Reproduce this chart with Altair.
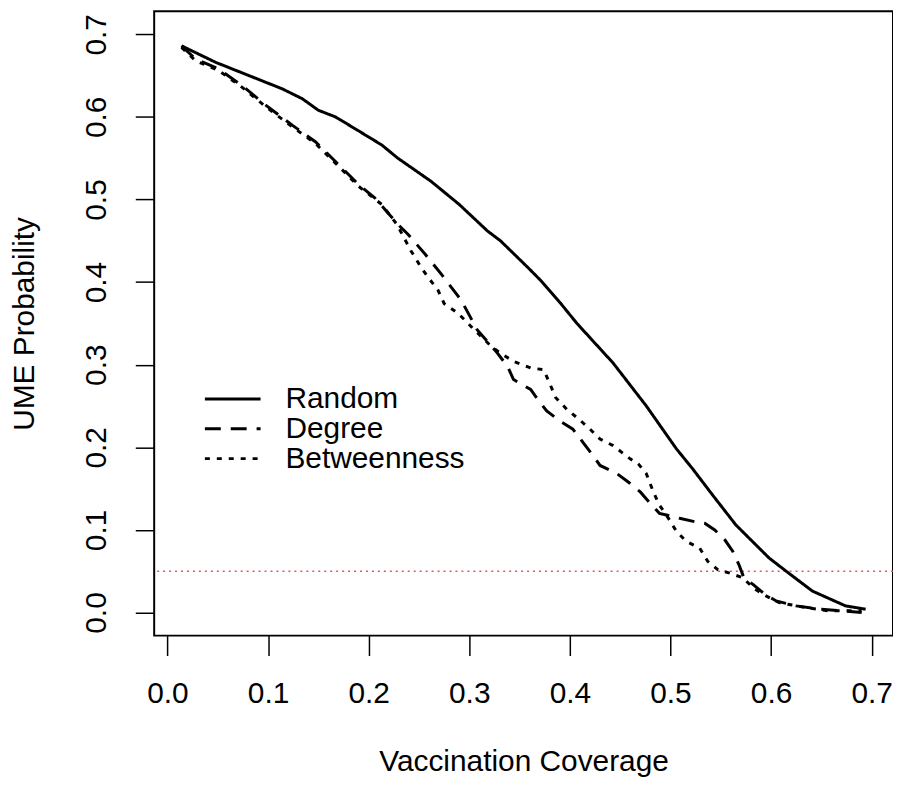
import altair as alt
import pandas as pd

# ---- data ----
random_x = [0.014, 0.048, 0.081, 0.114, 0.134, 0.150, 0.167, 0.186, 0.213, 0.229, 0.262, 0.290,
            0.318, 0.331, 0.358, 0.371, 0.391, 0.407, 0.443, 0.476, 0.506, 0.522, 0.542, 0.565,
            0.598, 0.615, 0.641, 0.674, 0.694]
random_y = [0.686, 0.666, 0.650, 0.634, 0.622, 0.608, 0.600, 0.586, 0.566, 0.550, 0.522, 0.494,
            0.462, 0.450, 0.418, 0.402, 0.374, 0.350, 0.302, 0.250, 0.198, 0.174, 0.142, 0.106,
            0.066, 0.050, 0.026, 0.008, 0.004]

degree_x = [0.014, 0.028, 0.051, 0.074, 0.098, 0.124, 0.147, 0.167, 0.190, 0.206, 0.219, 0.229,
            0.239, 0.256, 0.272, 0.292, 0.308, 0.328, 0.338, 0.344, 0.361, 0.368, 0.377, 0.390,
            0.403, 0.413, 0.423, 0.430, 0.447, 0.458, 0.470, 0.480, 0.489, 0.496, 0.509, 0.524,
            0.534, 0.544, 0.554, 0.562, 0.568, 0.573, 0.582, 0.592, 0.605, 0.625, 0.648, 0.690]
degree_y = [0.686, 0.670, 0.658, 0.638, 0.614, 0.590, 0.570, 0.546, 0.518, 0.502, 0.484, 0.470,
            0.458, 0.434, 0.410, 0.378, 0.342, 0.314, 0.298, 0.282, 0.270, 0.258, 0.244, 0.232,
            0.222, 0.206, 0.190, 0.178, 0.168, 0.158, 0.146, 0.132, 0.120, 0.118, 0.114, 0.110,
            0.108, 0.100, 0.088, 0.074, 0.058, 0.042, 0.034, 0.024, 0.014, 0.008, 0.004, 0.000]

betw_x = [0.014, 0.028, 0.051, 0.074, 0.098, 0.124, 0.147, 0.167, 0.190, 0.213, 0.228, 0.242,
          0.252, 0.259, 0.269, 0.275, 0.289, 0.302, 0.322, 0.331, 0.344, 0.361, 0.374, 0.379,
          0.386, 0.397, 0.409, 0.420, 0.430, 0.443, 0.460, 0.468, 0.476, 0.483, 0.489, 0.496,
          0.506, 0.516, 0.529, 0.537, 0.547, 0.558, 0.572, 0.582, 0.592, 0.608, 0.634, 0.657, 0.690]
betw_y = [0.684, 0.668, 0.656, 0.636, 0.612, 0.588, 0.568, 0.544, 0.516, 0.494, 0.470, 0.438,
          0.418, 0.406, 0.390, 0.374, 0.362, 0.346, 0.322, 0.314, 0.304, 0.296, 0.294, 0.280,
          0.260, 0.246, 0.234, 0.222, 0.210, 0.202, 0.186, 0.180, 0.168, 0.146, 0.130, 0.118,
          0.098, 0.086, 0.078, 0.062, 0.052, 0.048, 0.042, 0.030, 0.022, 0.012, 0.006, 0.002, 0.002]

series_names = ["Random", "Degree", "Betweenness"]
threshold = [0.05]
x_ticks = [0.0, 0.1, 0.2, 0.3, 0.4, 0.5, 0.6, 0.7]
y_ticks = [0.0, 0.1, 0.2, 0.3, 0.4, 0.5, 0.6, 0.7]

rows = []
for name, xs, ys in zip(series_names, [random_x, degree_x, betw_x], [random_y, degree_y, betw_y]):
    for i, (xv, yv) in enumerate(zip(xs, ys)):
        rows.append({"strategy": name, "coverage": xv, "prob": yv, "idx": i})
df = pd.DataFrame(rows)
thr_df = pd.DataFrame({"level": threshold})

FONT = "Liberation Sans"
dash_styles = [[1, 0], [16, 10], [5, 7]]

x_scale = alt.Scale(domain=[-0.0132, 0.7212], nice=False, zero=False)
y_scale = alt.Scale(domain=[-0.028, 0.728], nice=False, zero=False)

x_axis = alt.Axis(values=x_ticks, format=".1f", tickSize=20, tickWidth=1.5, tickColor="black",
                  labelFontSize=30, labelFont=FONT, labelColor="black", labelPadding=38,
                  labelBaseline="middle", labelFlush=False, labelOverlap=False,
                  domain=False, grid=False,
                  title="Vaccination Coverage", titleFontSize=30, titleFont=FONT,
                  titleFontWeight="normal", titleColor="black",
                  titleX=371.5, titleY=127, titleAlign="center", titleBaseline="middle")
y_axis = alt.Axis(values=y_ticks, format=".1f", tickSize=19, tickWidth=1.5, tickColor="black",
                  labelFontSize=30, labelFont=FONT, labelColor="black", labelPadding=39,
                  labelAngle=270, labelAlign="center", labelBaseline="middle",
                  labelFlush=False, labelOverlap=False,
                  domain=False, grid=False,
                  title="UME Probability", titleFontSize=30, titleFont=FONT,
                  titleFontWeight="normal", titleColor="black",
                  titleX=-130, titleY=314, titleAngle=270, titleAlign="center",
                  titleBaseline="middle")

lines = alt.Chart(df).mark_line(strokeWidth=3, color="black").encode(
    x=alt.X("coverage:Q", scale=x_scale, axis=x_axis),
    y=alt.Y("prob:Q", scale=y_scale, axis=y_axis),
    strokeDash=alt.StrokeDash(
        "strategy:N",
        scale=alt.Scale(domain=series_names, range=dash_styles),
        legend=alt.Legend(title=None, orient="none", legendX=64, legendY=375,
                          symbolType="M-4,0H4", symbolSize=196, symbolStrokeWidth=3,
                          symbolStrokeColor="black", symbolFillColor="transparent",
                          labelFontSize=30, labelFont=FONT, labelColor="black",
                          labelOffset=38, rowPadding=-5, labelLimit=400),
    ),
    order=alt.Order("idx:Q"),
)

rule = alt.Chart(thr_df).mark_rule(color="#e05a5a", strokeWidth=1.5, strokeDash=[2, 4]).encode(
    y=alt.Y("level:Q", scale=y_scale)
)

chart = alt.layer(rule, lines).properties(
    width=743, height=628,
    autosize=alt.AutoSizeParams(type="none"),
    padding={"left": 147, "top": 1, "right": 0, "bottom": 140},
    background="white",
).configure_view(stroke="black", strokeWidth=2)

chart.save("out.html", embed_options={"renderer": "svg", "actions": False})
